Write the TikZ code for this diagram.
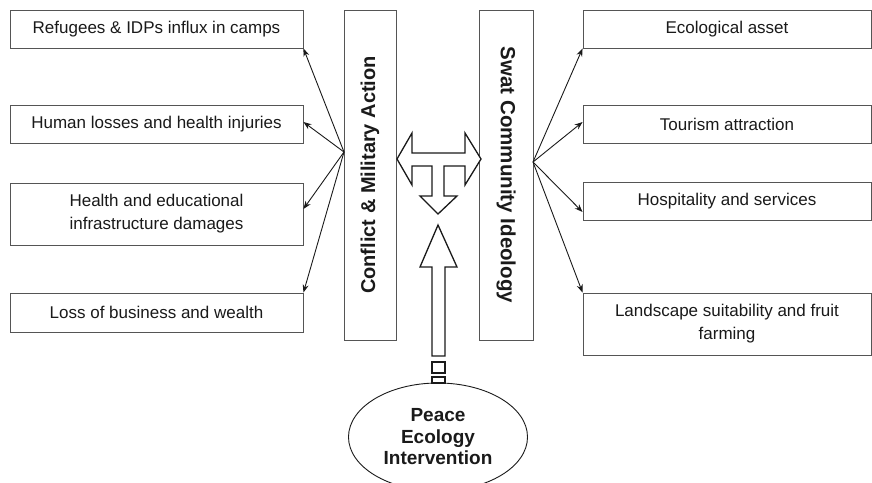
\documentclass[tikz,border=0pt]{standalone}
\usepackage{fontspec}
\setmainfont{Liberation Sans}
\usetikzlibrary{arrows.meta, positioning, calc, shapes.geometric}
\definecolor{pkInk}{HTML}{1A1A1A}
\definecolor{pkEdge}{HTML}{555555}
\tikzset{
  item/.style={
    draw=pkEdge, line width=0.9pt, fill=white, inner sep=3pt,
    align=center, font=\fontsize{17}{23}\selectfont, text=pkInk
  },
  pillar/.style={item, font=\fontsize{20}{22}\selectfont\bfseries},
  hub/.style={ellipse, draw=pkInk, line width=0.9pt, fill=white,
    align=center, font=\fontsize{19}{21.5}\selectfont\bfseries, text=pkInk,
    minimum width=179pt, minimum height=108pt},
  link/.style={-{Stealth[length=8pt, width=6pt]}, line width=0.9pt, draw=pkInk},
  blockarrow/.style={draw=pkInk, line width=1.3pt, fill=white, line join=miter},
}

\begin{document}
\begin{tikzpicture}[x=1pt, y=-1pt]
  \useasboundingbox (0,0) rectangle (872,482);

  % effects of the conflict
  \node[item, minimum width=293pt, minimum height=38pt] (l1) at (156.5,29)  {Refugees \& IDPs influx in camps};
  \node[item, minimum width=293pt, minimum height=38pt] (l2) at (156.5,124) {Human losses and health injuries};
  \node[item, minimum width=293pt, minimum height=62pt] (l3) at (156.5,214) {Health and educational\\infrastructure damages};
  \node[item, minimum width=293pt, minimum height=39pt] (l4) at (156.5,312.5) {Loss of business and wealth};

  % the two pillars
  \node[pillar, rotate=90,  minimum width=330pt, minimum height=52pt] (cma)  at (370,175) {Conflict \& Military Action};
  \node[pillar, rotate=-90, minimum width=330pt, minimum height=54pt,
        font=\fontsize{20.5}{22}\selectfont\bfseries] (swat) at (506,175) {Swat Community Ideology};

  % assets of the community
  \node[item, minimum width=288pt, minimum height=38pt] (r1) at (727,29)  {Ecological asset};
  \node[item, minimum width=288pt, minimum height=38pt] (r2) at (727,124) {Tourism attraction};
  \node[item, minimum width=288pt, minimum height=38pt] (r3) at (727,201) {Hospitality and services};
  \node[item, minimum width=288pt, minimum height=62pt] (r4) at (727,324) {Landscape suitability and fruit\\farming};

  \node[hub] (pei) at (438,437) {Peace\\Ecology\\Intervention};

  \coordinate (hubL) at (344,152);
  \coordinate (hubR) at (533,162);

  \draw[link] (hubL) -- (l1.south east);
  \draw[link] (hubL) -- ([yshift=2pt]l2.east);
  \draw[link] (hubL) -- ([yshift=5pt]l3.east);
  \draw[link] (hubL) -- (l4.north east);

  \draw[link] (hubR) -- (r1.south west);
  \draw[link] (hubR) -- ([yshift=2pt]r2.west);
  \draw[link] (hubR) -- ([yshift=-11pt]r3.west);
  \draw[link] (hubR) -- (r4.north west);

  % T-shaped double arrow between the pillars
  \draw[blockarrow] (397,159) -- (412,133) -- (412,153) -- (465,153) -- (465,133)
    -- (481,159) -- (465,185) -- (465,166) -- (444,166) -- (444,196) -- (457,196)
    -- (438,214) -- (420,196) -- (432,196) -- (432,166) -- (412,166) -- (412,185) -- cycle;

  % upward arrow from the intervention
  \draw[blockarrow] (438,225) -- (457,267) -- (445,267) -- (445,356) -- (432,356)
    -- (432,267) -- (420,267) -- cycle;
  \draw[blockarrow] (432,362) rectangle (445,373);
  \draw[blockarrow] (432,377) rectangle (445,383);
\end{tikzpicture}
\end{document}
